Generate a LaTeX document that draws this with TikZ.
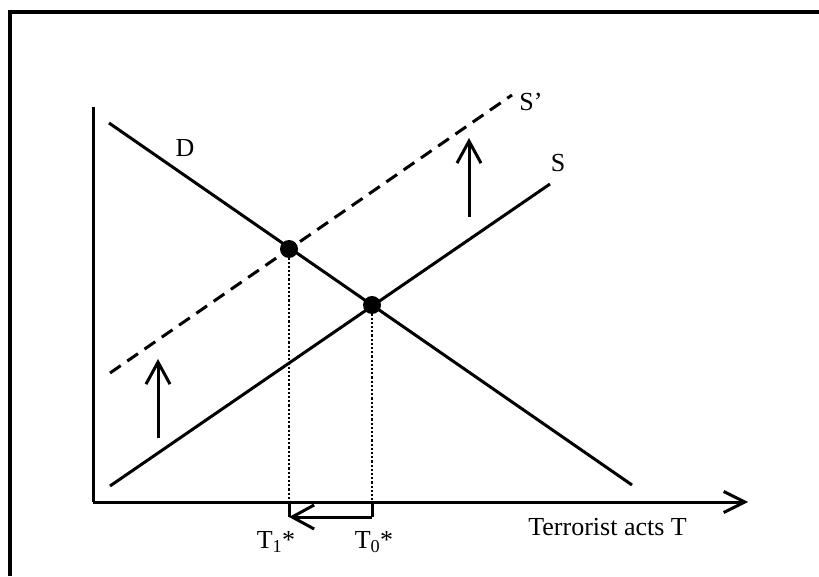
\documentclass[tikz,border=0pt]{standalone}
\usepackage{fontspec}
\setmainfont{Liberation Serif}
\usetikzlibrary{arrows.meta}
\begin{document}
\begin{tikzpicture}[x=1pt,y=1pt,
  lbl/.style={font=\fontsize{26}{30}\selectfont, inner sep=0pt},
  eqdot/.style={circle, fill=black, minimum size=18pt, inner sep=0pt},
  frameline/.style={line width=3.2pt},
  axisline/.style={line width=3pt},
  curve/.style={line width=3pt},
  shifted/.style={line width=3pt, dash pattern=on 13pt off 8pt},
  drop/.style={line width=2.6pt, dash pattern=on 2.2pt off 2pt},
  shiftarrow/.style={line width=3pt, -{Straight Barb[length=22pt,width=24pt]}},
  axisarrow/.style={line width=3pt, -{Straight Barb[length=21pt,width=21pt]}},
  bracket/.style={line width=3pt}]
\useasboundingbox (0,0) rectangle (819,576);
% frame
\coordinate (fbl) at (10,0);
\coordinate (ftl) at (10,564);
\coordinate (ftr) at (819,564);
\draw[frameline] (fbl) -- (ftl) -- (ftr);
% axes
\coordinate (ytop) at (93,469);
\coordinate (orig) at (93,74);
\coordinate (xend) at (748,74);
\draw[axisline] (ytop) -- (orig);
\draw[axisarrow] (orig) -- (xend);
% curves
\coordinate (d0) at (109,453);
\coordinate (d1) at (632,91);
\coordinate (s0) at (110,90);
\coordinate (s1) at (550,392);
\coordinate (sp0) at (110,203);
\coordinate (sp1) at (512,481);
\draw[curve] (d0) -- (d1);
\draw[curve] (s0) -- (s1);
\draw[shifted] (sp0) -- (sp1);
% equilibria
\coordinate (e1) at (289,327);
\coordinate (e0) at (372,271);
\coordinate (a1) at (289,74);
\coordinate (a0) at (372,74);
\draw[drop] (e1) -- (a1);
\draw[drop] (e0) -- (a0);
\node[eqdot] (E1) at (e1) {};
\node[eqdot] (E0) at (e0) {};
% bracket arrow
\coordinate (b1) at (289,59);
\coordinate (b0) at (372,59);
\draw[bracket] (a0) -- (b0);
\draw[bracket] (a1) -- (b1);
\draw[shiftarrow] (b0) -- (b1);
% shift arrows
\coordinate (u1s) at (158,138);
\coordinate (u1e) at (158,217);
\coordinate (u2s) at (469,359);
\coordinate (u2e) at (469,438);
\draw[shiftarrow] (u1s) -- (u1e);
\draw[shiftarrow] (u2s) -- (u2e);
% labels
\node[lbl] (Dl) at (185,428) {D};
\node[lbl] (Sl) at (558,413) {S};
\node[lbl] (Spl) at (531,474) {S’};
\node[lbl] (T1l) at (276,34) {T\textsubscript{1}*};
\node[lbl] (T0l) at (374,34) {T\textsubscript{0}*};
\node[lbl, anchor=east] (Xl) at (687,49) {Terrorist acts T};
\end{tikzpicture}
\end{document}
